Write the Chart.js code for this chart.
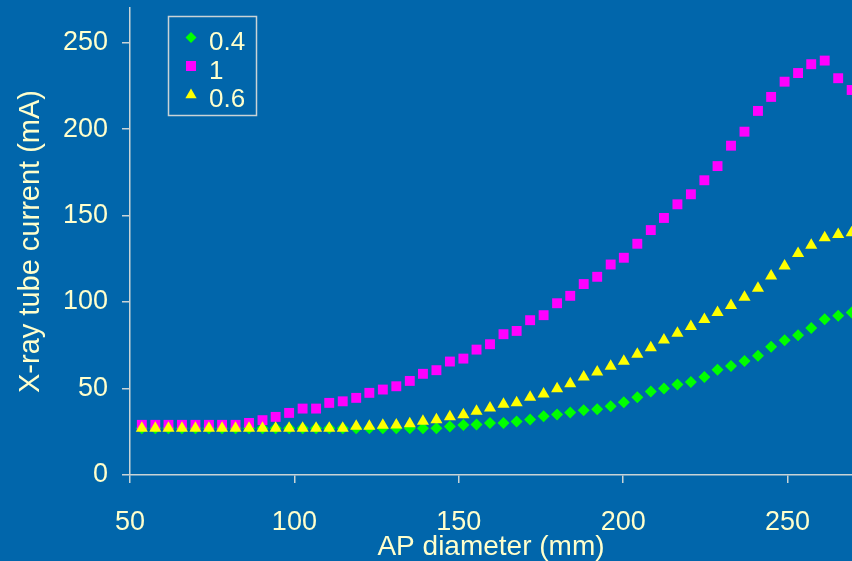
<!DOCTYPE html>
<html>
<head>
<meta charset="utf-8">
<title>X-ray tube current vs AP diameter</title>
<script src="https://cdn.jsdelivr.net/npm/chart.js@4/dist/chart.umd.min.js"></script>
<style>
  html, body { margin: 0; padding: 0; background: #0166ab; overflow: hidden; }
  #wrap { width: 852px; height: 561px; position: relative; }
  canvas { display: block; }
</style>
</head>
<body>
<div id="wrap"><canvas id="chart" width="852" height="561"></canvas></div>
<script>
// AP diameter (mm) sampled for each point
const apDiameter = [53.6, 57.7, 61.7, 65.8, 69.9, 74.0, 78.0, 82.1, 86.2, 90.3,
  94.3, 98.4, 102.5, 106.6, 110.6, 114.7, 118.8, 122.8, 126.9, 131.0,
  135.1, 139.1, 143.2, 147.3, 151.4, 155.4, 159.5, 163.6, 167.6, 171.7,
  175.8, 179.9, 183.9, 188.0, 192.1, 196.2, 200.2, 204.3, 208.4, 212.4,
  216.5, 220.6, 224.7, 228.7, 232.8, 236.9, 241.0, 245.0, 249.1, 253.2,
  257.2, 261.3, 265.4, 269.5];

// Tube current (mA), one list per setting
const current04 = [27, 27, 27, 27, 27, 27, 27, 27, 27, 27,
  27, 27, 27, 27, 27, 27, 27, 27, 27, 27,
  27, 27, 27, 28.0, 28.9, 29.2, 30.1, 30.1, 30.9, 32.1,
  34.0, 35.0, 36.1, 37.4, 38.0, 39.8, 42.1, 44.9, 48.3, 50.0,
  52.3, 53.8, 56.7, 60.9, 63.0, 65.9, 69.0, 74.1, 77.9, 80.8,
  85.0, 90.0, 92.1, 93.9];

const current1 = [29, 29, 29, 29, 29, 29, 29, 29, 30.1, 31.7,
  33.6, 35.9, 38.4, 38.4, 41.7, 42.6, 44.6, 47.5, 49.4, 51.3,
  54.4, 58.5, 60.6, 65.6, 67.3, 72.5, 75.6, 81.4, 83.3, 89.5,
  92.4, 99.3, 103.6, 110.4, 114.6, 121.7, 125.6, 133.7, 141.6, 148.6,
  156.5, 162.3, 170.4, 178.6, 190.4, 198.5, 210.5, 218.6, 227.4, 232.4,
  237.5, 239.6, 229.4, 222.6];

const current06 = [27, 27, 27, 27, 27, 27, 27, 27, 27, 27,
  27, 27, 27, 27, 27, 27, 28.2, 28.2, 28.7, 28.9,
  29.7, 31.1, 32.0, 33.7, 34.9, 36.8, 38.8, 40.9, 41.8, 44.9,
  46.9, 49.8, 52.7, 56.7, 59.6, 62.9, 65.8, 69.8, 73.6, 78.1,
  81.9, 85.8, 89.9, 93.9, 98.0, 102.8, 108.0, 115.0, 120.9, 128.1,
  132.9, 137.1, 139.1, 140.0];

const seriesNames = ['0.4', '1', '0.6'];
const xTicks = [50, 100, 150, 200, 250];
const yTicks = [0, 50, 100, 150, 200, 250];

const TEXT = '#ffffcc';
const AXIS = '#c9d3d6';
const FONT = '"Liberation Sans", Arial, sans-serif';

const toPoints = (ys) => apDiameter.map((x, i) => ({ x, y: ys[i] }));

const styles = [
  { color: '#00ff00', pointStyle: 'rectRot', radius: 6, order: 2 },
  { color: '#ff00ff', pointStyle: 'rect', radius: 7, order: 1 },
  { color: '#ffff00', pointStyle: 'triangle', radius: 7, order: 0 }
];
const values = [current04, current1, current06];

const datasets = values.map((ys, i) => ({
  label: seriesNames[i],
  data: toPoints(ys),
  showLine: false,
  pointStyle: styles[i].pointStyle,
  pointRadius: styles[i].radius,
  pointBackgroundColor: styles[i].color,
  pointBorderColor: styles[i].color,
  pointBorderWidth: 0,
  order: styles[i].order
}));

// Boxed legend drawn inside the plot, top-left
function drawMarker(ctx, style, x, y) {
  ctx.beginPath();
  if (style === 'rectRot') {
    const r = 5.5;
    ctx.moveTo(x, y - r); ctx.lineTo(x + r, y); ctx.lineTo(x, y + r); ctx.lineTo(x - r, y);
  } else if (style === 'rect') {
    ctx.rect(x - 5, y - 5, 10, 10);
  } else {
    const r = 6.5;
    ctx.moveTo(x, y - r);
    ctx.lineTo(x + r * Math.sin(2 * Math.PI / 3), y + r / 2);
    ctx.lineTo(x - r * Math.sin(2 * Math.PI / 3), y + r / 2);
  }
  ctx.closePath();
  ctx.fill();
}

const boxLegend = {
  id: 'boxLegend',
  afterDatasetsDraw(chart) {
    const ctx = chart.ctx;
    ctx.save();
    ctx.strokeStyle = AXIS;
    ctx.lineWidth = 1.5;
    ctx.strokeRect(168.5, 16.5, 88, 99);
    const rowY = [37.5, 66, 95];
    const baseY = [50, 78.5, 106.5];
    ctx.font = '26px ' + FONT;
    ctx.textBaseline = 'alphabetic';
    ctx.textAlign = 'left';
    seriesNames.forEach((name, i) => {
      ctx.fillStyle = styles[i].color;
      drawMarker(ctx, styles[i].pointStyle, 191, rowY[i]);
      ctx.fillStyle = TEXT;
      ctx.fillText(name, 209, baseY[i]);
    });
    ctx.restore();
  }
};

new Chart(document.getElementById('chart'), {
  type: 'scatter',
  data: { datasets },
  plugins: [boxLegend],
  options: {
    responsive: false,
    animation: false,
    devicePixelRatio: 1,
    layout: { autoPadding: false, padding: { top: 8, right: 0, bottom: 0, left: 0 } },
    plugins: {
      legend: { display: false },
      tooltip: { enabled: false }
    },
    scales: {
      x: {
        type: 'linear',
        min: 50,
        max: 269.6,
        afterBuildTicks: (s) => { s.ticks = xTicks.map(v => ({ value: v })); },
        afterFit: (s) => { s.height = 86; s.paddingLeft = 0; s.paddingRight = 0; },
        grid: { display: true, drawOnChartArea: false, drawTicks: true, tickLength: 8, color: AXIS, lineWidth: 1.5 },
        border: { display: true, color: AXIS, width: 1.5 },
        ticks: { color: TEXT, font: { family: FONT, size: 27 }, padding: 23, maxRotation: 0 },
        title: {
          display: true,
          text: 'AP diameter (mm)',
          color: TEXT,
          font: { family: FONT, size: 28, lineHeight: 1 },
          padding: { top: 0, bottom: 0 }
        }
      },
      y: {
        type: 'linear',
        min: 0,
        max: 270,
        afterBuildTicks: (s) => { s.ticks = yTicks.map(v => ({ value: v })); },
        afterFit: (s) => { s.width = 130; s.paddingTop = 0; s.paddingBottom = 0; },
        grid: { display: true, drawOnChartArea: false, drawTicks: true, tickLength: 8, color: AXIS, lineWidth: 1.5 },
        border: { display: true, color: AXIS, width: 1.5 },
        ticks: { color: TEXT, font: { family: FONT, size: 27 }, padding: 14 },
        title: {
          display: true,
          text: 'X-ray tube current (mA)',
          color: TEXT,
          font: { family: FONT, size: 29, lineHeight: 1 },
          padding: { top: 16, bottom: 0 }
        }
      }
    }
  }
});
</script>
</body>
</html>
